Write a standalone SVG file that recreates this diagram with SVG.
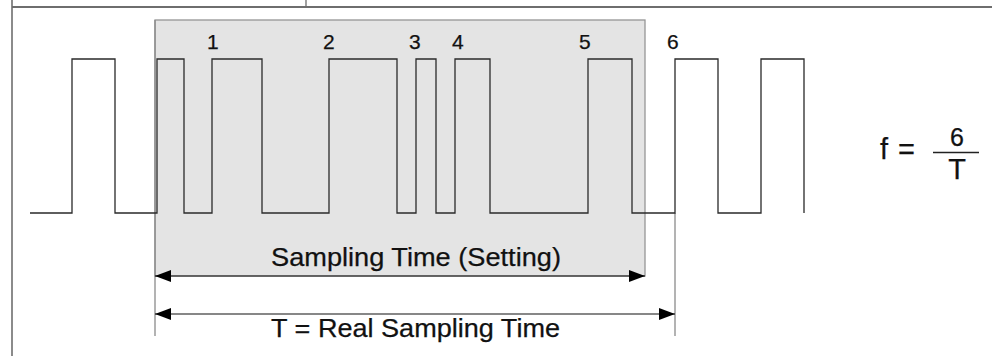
<svg xmlns="http://www.w3.org/2000/svg" width="992" height="356" viewBox="0 0 992 356">
  <style>
    .frame { stroke: #6e6e6e; fill: none; }
    .sig { stroke: #2a2a2a; stroke-width: 1.3; fill: none; }
    .guide { stroke: #8a8a8a; stroke-width: 1.3; fill: none; }
    .arrow { stroke: #111; stroke-width: 1.2; fill: none; }
    .t { font-family: "Liberation Sans", Arial, sans-serif; fill: #111; stroke: #111; stroke-width: 0.25; }
  </style>
  <defs>
    <marker id="ah" viewBox="0 0 16 12" refX="16" refY="6" markerWidth="16" markerHeight="12" markerUnits="userSpaceOnUse" orient="auto-start-reverse">
      <path d="M0,0 L16,6 L0,12 Z" fill="#000"/>
    </marker>
  </defs>
  <rect width="992" height="356" fill="#fff"/>
  <g id="frame">
    <line class="frame" x1="12" y1="7" x2="992" y2="7" stroke-width="2"/>
    <line class="frame" x1="12" y1="0" x2="12" y2="356" stroke-width="1.6" stroke="#444"/>
    <line class="frame" x1="306" y1="0" x2="306" y2="7" stroke-width="1.3" stroke="#444"/>
  </g>
  <g id="window">
    <rect x="155" y="20" width="490" height="256" fill="#e4e4e4" stroke="#959595" stroke-width="1.3"/>
  </g>
  <g id="guides">
    <line class="guide" x1="155" y1="20" x2="155" y2="336"/>
    <line class="guide" x1="675" y1="213" x2="675" y2="336"/>
  </g>
  <g id="signal">
    <path class="sig" d="M30,213 H72 V59 H115 V213 H157 V59 H184 V213 H212 V59 H262 V213 H329 V59 H397 V213 H416 V59 H436 V213 H455 V59 H490 V213 H588 V59 H632 V213 H675 V59 H718 V213 H761 V59 H804 V213"/>
  </g>
  <g id="pulse-labels" class="t" font-size="21">
    <text x="207" y="49">1</text>
    <text x="323" y="49">2</text>
    <text x="409" y="49">3</text>
    <text x="452" y="49">4</text>
    <text x="579" y="49">5</text>
    <text x="667" y="49">6</text>
  </g>
  <g id="connectors">
    <line class="arrow" x1="155" y1="276" x2="645" y2="276" marker-start="url(#ah)" marker-end="url(#ah)"/>
    <line class="arrow" x1="155" y1="314" x2="675" y2="314" marker-start="url(#ah)" marker-end="url(#ah)"/>
  </g>
  <g id="label-setting">
    <text class="t" x="271" y="266" font-size="26" textLength="290" lengthAdjust="spacingAndGlyphs">Sampling Time (Setting)</text>
  </g>
  <g id="label-real">
    <text class="t" x="271" y="337" font-size="26" textLength="289" lengthAdjust="spacingAndGlyphs">T = Real Sampling Time</text>
  </g>
  <g id="formula">
    <text class="t" x="880" y="159" font-size="29">f</text>
    <text class="t" x="898" y="159" font-size="29">=</text>
    <text class="t" x="957" y="146" font-size="25" text-anchor="middle">6</text>
    <line x1="933" y1="152.5" x2="979" y2="152.5" stroke="#222" stroke-width="1.3"/>
    <text class="t" x="957" y="179" font-size="29" text-anchor="middle">T</text>
  </g>
</svg>
